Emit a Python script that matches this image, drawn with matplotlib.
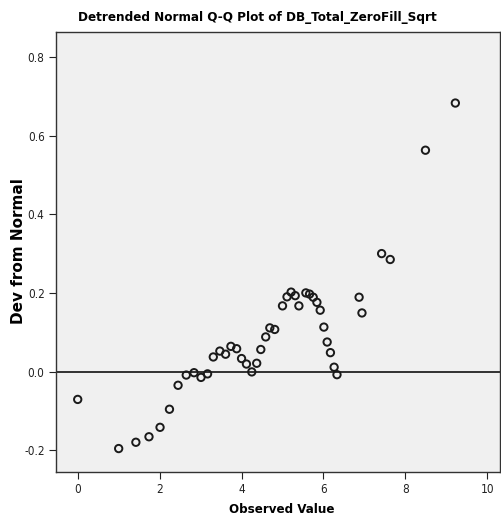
import matplotlib
matplotlib.use("Agg")
import matplotlib.pyplot as plt

title = "Detrended Normal Q-Q Plot of DB_Total_ZeroFill_Sqrt"
x_label = "Observed Value"
y_label = "Dev from Normal"

observed = [0, 1.0, 1.42, 1.74, 2.01, 2.24, 2.45, 2.65, 2.84, 3.01, 3.17, 3.31, 3.47, 3.61,
            3.74, 3.88, 4.0, 4.12, 4.25, 4.37, 4.47, 4.59, 4.69, 4.81, 5.0, 5.11, 5.21, 5.31,
            5.4, 5.57, 5.66, 5.75, 5.84, 5.92, 6.01, 6.09, 6.17, 6.26, 6.33, 6.87, 6.94,
            7.42, 7.63, 8.49, 9.22]
deviation = [-0.071, -0.196, -0.180, -0.166, -0.142, -0.096, -0.035, -0.009, -0.003, -0.015,
             -0.006, 0.037, 0.052, 0.044, 0.064, 0.058, 0.033, 0.019, -0.001, 0.021, 0.056,
             0.088, 0.111, 0.107, 0.167, 0.190, 0.202, 0.193, 0.167, 0.200, 0.197, 0.189,
             0.176, 0.156, 0.113, 0.075, 0.048, 0.011, -0.008, 0.189, 0.149, 0.300, 0.285,
             0.563, 0.683]

x_ticks = [0, 2, 4, 6, 8, 10]
y_ticks = [-0.2, 0.0, 0.2, 0.4, 0.6, 0.8]

narrow = ["DejaVu Sans"]

fig = plt.figure(figsize=(5.02, 5.23), dpi=100)
ax = fig.add_axes([0.111, 0.098, 0.885, 0.841])
ax.set_facecolor("#F0F0F0")

ax.axhline(0, color="#222222", linewidth=1.3, zorder=1)
ax.scatter(observed, deviation, s=28, facecolors="none", edgecolors="#1a1a1a",
           linewidths=1.4, zorder=3)

ax.set_xlim(-0.537, 10.31)
ax.set_ylim(-0.255, 0.864)
ax.set_xticks(x_ticks)
ax.set_xticklabels([str(t) for t in x_ticks], family=narrow, stretch="condensed", fontsize=8.5)
ax.set_yticks(y_ticks)
ax.set_yticklabels(["-0.2", "0.0", "0.2", "0.4", "0.6", "0.8"], family=narrow,
                   stretch="condensed", fontsize=8.5)
ax.tick_params(direction="out", length=5, width=0.8, colors="#222222", pad=3)

for s in ax.spines.values():
    s.set_color("#333333")
    s.set_linewidth(1.0)

fig.text(0.512, 0.966, title, ha="center", va="center", family=narrow, stretch="condensed",
         fontweight="bold", fontsize=9.6)
fig.text(0.562, 0.026, x_label, ha="center", va="center", family=narrow, stretch="condensed",
         fontweight="bold", fontsize=9.5)
fig.text(0.036, 0.52, y_label, ha="center", va="center", rotation=90,
         family=["DejaVu Sans"], fontweight="bold", fontsize=11)

fig.savefig("out.png", dpi=100, facecolor="white")
